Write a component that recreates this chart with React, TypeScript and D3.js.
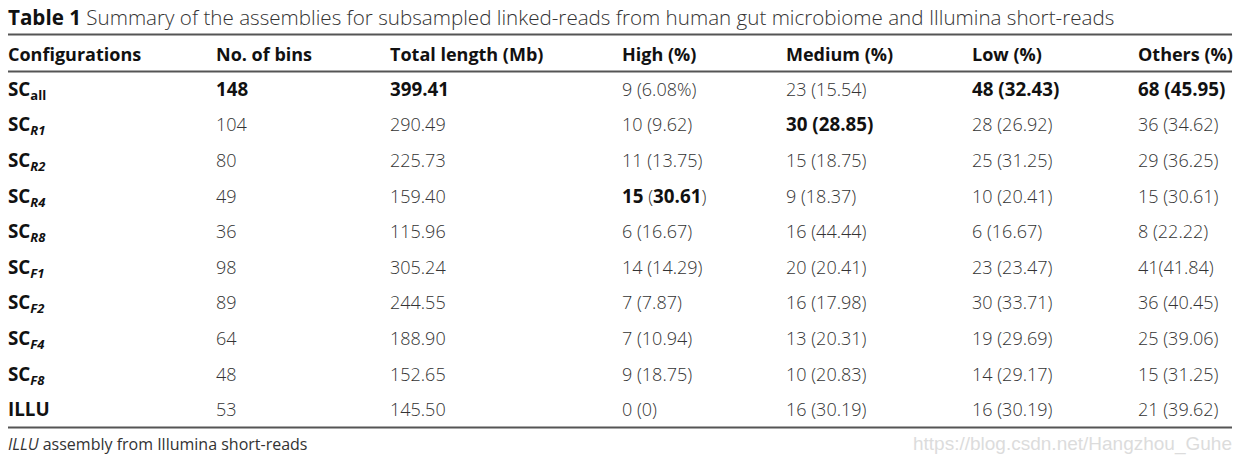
import React from "react";
import * as d3 from "d3";

const title = "Summary of the assemblies for subsampled linked-reads from human gut microbiome and Illumina short-reads";
const headers = ["Configurations", "No. of bins", "Total length (Mb)", "High (%)", "Medium (%)", "Low (%)", "Others (%)"];
const configBase = ["SC", "SC", "SC", "SC", "SC", "SC", "SC", "SC", "SC", "ILLU"];
const configSub = ["all", "R1", "R2", "R4", "R8", "F1", "F2", "F4", "F8", ""];
const bins = ["**148**", "104", "80", "49", "36", "98", "89", "64", "48", "53"];
const totalLength = ["**399.41**", "290.49", "225.73", "159.40", "115.96", "305.24", "244.55", "188.90", "152.65", "145.50"];
const high = ["9 (6.08%)", "10 (9.62)", "11 (13.75)", "**15** (**30.61**)", "6 (16.67)", "14 (14.29)", "7 (7.87)", "7 (10.94)", "9 (18.75)", "0 (0)"];
const medium = ["23 (15.54)", "**30 (28.85)**", "15 (18.75)", "9 (18.37)", "16 (44.44)", "20 (20.41)", "16 (17.98)", "13 (20.31)", "10 (20.83)", "16 (30.19)"];
const low = ["**48 (32.43)**", "28 (26.92)", "25 (31.25)", "10 (20.41)", "6 (16.67)", "23 (23.47)", "30 (33.71)", "19 (29.69)", "14 (29.17)", "16 (30.19)"];
const others = ["**68 (45.95)**", "36 (34.62)", "29 (36.25)", "15 (30.61)", "8 (22.22)", "41(41.84)", "36 (40.45)", "25 (39.06)", "15 (31.25)", "21 (39.62)"];
const footnoteItalic = "ILLU";
const footnoteRest = " assembly from Illumina short-reads";
const watermark = "https://blog.csdn.net/Hangzhou_Guhe";

const W = 1240;
const H = 460;
const FONT = "'Open Sans', 'Noto Sans', sans-serif";
const colX = [8, 216, 390, 622, 786, 972, 1138];
const LEFT = 8;
const RIGHT = 1232;

function parts(s: string) {
  const segs = s.split("**");
  return segs.map((t, i) => ({ t, bold: i % 2 === 1 })).filter((p) => p.t.length > 0);
}

export default function App() {
  const rows = d3.range(configBase.length);
  const y = d3.scaleBand<number>().domain(rows).range([71.5, 427.5]).paddingInner(0).paddingOuter(0);
  const cols = [bins, totalLength, high, medium, low, others];
  const bodyColor = "#333";
  const boldColor = "#111";
  const fs = 18;
  const fsBold = 18.8;
  return (
    <svg width={W} height={H} style={{ position: "absolute", left: 0, top: 0, background: "#fff" }} fontFamily={FONT}>
      <text x={LEFT} y={25} fontSize={20.6} fill={bodyColor}>
        <tspan fontWeight={700} fill={boldColor}>Table 1</tspan>
        <tspan fontWeight={300}> {title}</tspan>
      </text>
      <line x1={LEFT} x2={RIGHT} y1={34.5} y2={34.5} stroke="#555" strokeWidth={2} />
      {headers.map((h, i) => (
        <text key={h} x={colX[i]} y={61} fontSize={18} fontWeight={700} fill={boldColor}>{h}</text>
      ))}
      <line x1={LEFT} x2={RIGHT} y1={71.5} y2={71.5} stroke="#555" strokeWidth={2} />
      {rows.map((r) => {
        const cy = (y(r) as number) + y.bandwidth() / 2 + 6.5;
        return (
          <g key={r}>
            <text x={colX[0]} y={cy} fontSize={fsBold} fontWeight={700} fill={boldColor}>
              {configBase[r]}
              {configSub[r] && (
                <tspan fontSize={13} dy={4} fontStyle={r === 0 ? "normal" : "italic"}>{configSub[r]}</tspan>
              )}
            </text>
            {cols.map((c, ci) => (
              <text key={ci} x={colX[ci + 1]} y={cy} fontSize={fs} fontWeight={300} fill={bodyColor}>
                {parts(c[r]).map((p, k) => (
                  <tspan key={k} fontWeight={p.bold ? 700 : 300} fontSize={p.bold ? fsBold : fs} fill={p.bold ? boldColor : bodyColor}>{p.t}</tspan>
                ))}
              </text>
            ))}
          </g>
        );
      })}
      <line x1={LEFT} x2={RIGHT} y1={427.5} y2={427.5} stroke="#555" strokeWidth={2} />
      <text x={LEFT} y={450} fontSize={16} fill={bodyColor}>
        <tspan fontStyle="italic">{footnoteItalic}</tspan>
        <tspan>{footnoteRest}</tspan>
      </text>
      <text x={RIGHT} y={450} fontSize={19} textAnchor="end" fill="#dcdcdc" fontFamily="'Liberation Sans', Arial, sans-serif">{watermark}</text>
    </svg>
  );
}
